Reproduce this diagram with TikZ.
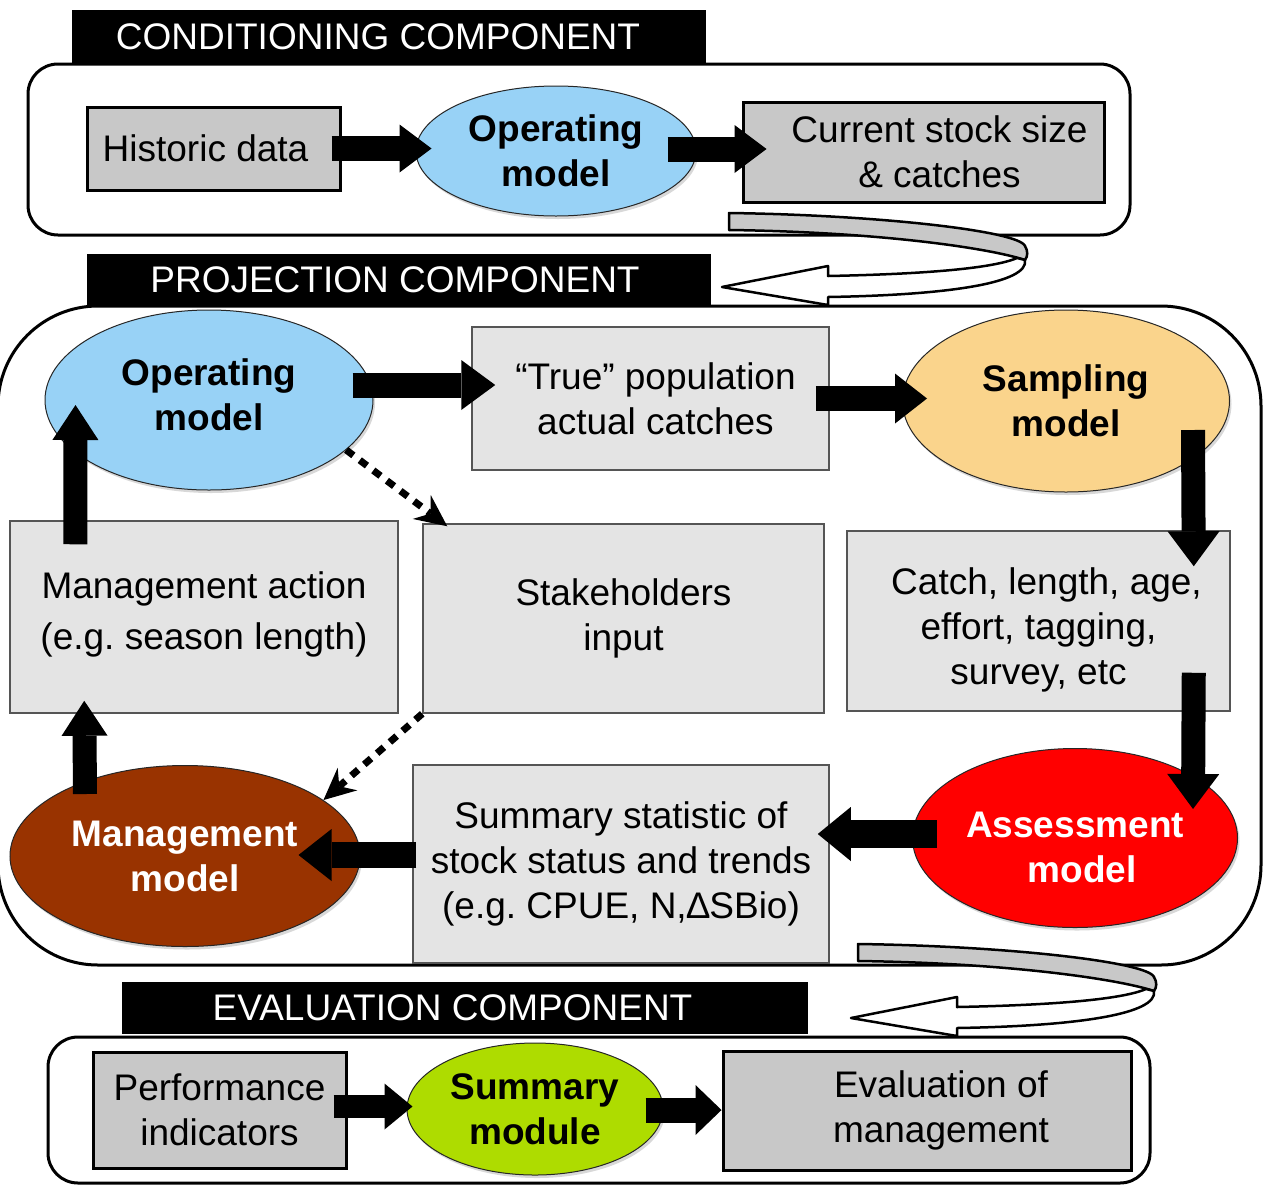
\documentclass[tikz,border=0pt]{standalone}
\usepackage{fontspec}
\setmainfont{Liberation Sans}
\usetikzlibrary{shapes.geometric,arrows.meta,calc,shadows}
\definecolor{opblue}{RGB}{152,210,246}
\definecolor{sampcol}{RGB}{250,212,140}
\definecolor{mgmtcol}{RGB}{153,51,0}
\definecolor{summcol}{RGB}{174,220,0}
\definecolor{darkbox}{RGB}{200,200,200}
\definecolor{lightbox}{RGB}{228,228,228}
\definecolor{lightedge}{RGB}{85,85,85}
\newcommand{\dtxt}{\fontsize{37pt}{45pt}\selectfont\frenchspacing}
\tikzset{
 hdr/.style={fill=black, text=white, font=\dtxt, inner sep=0pt},
 panel/.style={draw=black, line width=3pt, fill=white},
 dbox/.style={draw=black, line width=3pt, fill=darkbox, font=\dtxt, align=center, inner sep=0pt},
 lbox/.style={draw=lightedge, line width=1.5pt, fill=lightbox, font=\dtxt, align=center, inner sep=0pt},
 ell/.style={ellipse, draw=black!85, line width=1pt, font=\dtxt\bfseries, align=center, inner sep=0pt,
   drop shadow={shadow xshift=2pt, shadow yshift=-3pt, opacity=0.3}},
 blockarrow/.style n args={3}{draw=black, line width=#1, -{Triangle[length=#2,width=#3,line width=0pt]}},
 dotarrow/.style={draw=black, line width=7pt, dash pattern=on 9pt off 8pt,
   -{Stealth[length=32pt,width=30pt,inset=11pt,line width=0pt]}},
 uturn/.pic={
   \draw[line width=2.5pt, fill=darkbox, line join=round]
     (0,0) .. controls (150,2) and (290,18) .. (296,33)
     .. controls (299,38) and (299,43) .. (296,47)
     .. controls (260,35) and (150,19) .. (0,17) -- cycle;
   \draw[line width=2.5pt, fill=white, line join=round]
     (296,47) .. controls (300,70) and (220,82) .. (99,84) -- (99,92) -- (-7,74) -- (99,53) -- (99,63)
     .. controls (200,61) and (265,55) .. (288,45) -- cycle;
 }
}
\begin{document}
\begin{tikzpicture}[x=1pt,y=-1pt]
\useasboundingbox (0,0) rectangle (1268,1189);

% ---------- panels ----------
\draw[panel, rounded corners=30pt] (28,64) rectangle (1130,235);
\draw[panel, rounded corners=100pt] (-2,306) rectangle (1261,965);
\draw[panel, rounded corners=30pt] (48,1037) rectangle (1150,1183);

% ---------- headers ----------
\node[hdr, minimum width=634pt, minimum height=53pt] (h1) at (389,36.5) {CONDITIONING COMPONENT\hspace*{22pt}};
\node[hdr, minimum width=624pt, minimum height=52pt] (h2) at (399,280) {PROJECTION COMPONENT\hspace*{8pt}};
\node[hdr, minimum width=686pt, minimum height=52pt] (h3) at (465,1008) {EVALUATION COMPONENT\hspace*{25pt}};

% ---------- conditioning ----------
\node[dbox, minimum width=253pt, minimum height=83pt] (hist) at (213.5,148.5) {Historic data\hspace*{16pt}};
\node[ell, fill=opblue, minimum width=280pt, minimum height=130pt] (op1) at (556,151) {Operating\\model};
\node[dbox, minimum width=361pt, minimum height=100pt] (cur) at (923.5,152) {\hspace*{32pt}Current stock size\\\hspace*{32pt}\& catches};

% ---------- projection ----------
\node[ell, fill=opblue, minimum width=328pt, minimum height=180pt] (op2) at (209,400) {Operating\\model\rule[-10pt]{0pt}{0pt}};
\node[lbox, minimum width=357pt, minimum height=143pt] (true) at (650.5,398.5) {\hspace*{10pt}“True” population\\\hspace*{10pt}actual catches};
\node[ell, fill=sampcol, minimum width=327pt, minimum height=182pt] (samp) at (1066,401) {Sampling\\model};
\node[lbox, minimum width=388pt, minimum height=192pt, font=\fontsize{37pt}{51pt}\selectfont\frenchspacing] (mact) at (204,617) {Management action\\(e.g. season length)\rule[-12pt]{0pt}{0pt}};
\node[lbox, minimum width=401pt, minimum height=189pt] (stake) at (623.5,618.5) {Stakeholders\\input};
\node[lbox, minimum width=383pt, minimum height=180pt] (catch) at (1038.5,621) {\hspace*{16pt}Catch, length, age,\rule{0pt}{44pt}\\effort, tagging,\\survey, etc};
\node[ell, fill=mgmtcol, text=white, minimum width=350pt, minimum height=181pt] (mgmt) at (185,856) {Management\\model};
\node[lbox, minimum width=416pt, minimum height=198pt] (summ) at (621,864) {Summary statistic of\\stock status and trends\\(e.g. CPUE, N,∆SBio)\rule[-8pt]{0pt}{0pt}};
\node[ell, fill=red, text=white, minimum width=325pt, minimum height=179pt] (assess) at (1075,838) {Assessment\rule{0pt}{44pt}\\\hspace*{14pt}model};

% ---------- evaluation ----------
\node[dbox, minimum width=253pt, minimum height=116pt] (perf) at (219.5,1110) {Performance\\indicators};
\node[ell, fill=summcol, minimum width=256pt, minimum height=132pt] (summod) at (535,1109) {Summary\\module};
\node[dbox, minimum width=408pt, minimum height=119pt] (evalm) at (927,1110.5) {\hspace*{28pt}Evaluation of\\\hspace*{28pt}management};

% ---------- block arrows ----------
\draw[blockarrow={25pt}{32pt}{48pt}] ($(hist.east)+(-10,0)$) -- ($(hist.east -| op1.west)+(16,0)$);
\draw[blockarrow={25pt}{32pt}{48pt}] ($(op1.east)+(-29,-2)$) -- ($(op1.east -| cur.west)+(25,-2)$);

\draw[blockarrow={25pt}{34pt}{50pt}] ($(op2.east)+(-21,-15)$) -- ($(op2.east -| true.west)+(24,-15)$);
\draw[blockarrow={25pt}{32pt}{50pt}] ($(true.east)+(-14,0)$) -- ($(true.east -| samp.west)+(25,0)$);
\draw[blockarrow={24pt}{35pt}{52pt}] ($(samp.center)+(127,29)$) -- ($(catch.north east)+(-37,36)$);
\draw[blockarrow={24pt}{35pt}{52pt}] ($(catch.south east)+(-37,-39)$) -- ($(assess.center)+(118,-29)$);
\draw[blockarrow={28pt}{33pt}{54pt}] ($(assess.west)+(25,-4)$) -- ($(assess.west -| summ.east)+(-12,-4)$);
\draw[blockarrow={26pt}{33pt}{52pt}] ($(summ.west)+(4,-9)$) -- ($(summ.west -| mgmt.east)+(-62,-9)$);
\draw[blockarrow={24pt}{35pt}{46pt}] ($(mgmt.north)+(-100,29)$) -- ($(mact.south west)+(75,-13)$);
\draw[blockarrow={24pt}{35pt}{46pt}] ($(mact.north west)+(66,24)$) -- ($(op2.west)+(31,5)$);

\draw[blockarrow={23pt}{28pt}{46pt}] ($(perf.east)+(-14,-3.5)$) -- ($(perf.east -| summod.west)+(6,-3.5)$);
\draw[blockarrow={25pt}{26pt}{50pt}] ($(summod.east)+(-18,1)$) -- ($(summod.east -| evalm.west)+(0,1)$);

% ---------- dotted arrows ----------
\draw[dotarrow] (op2.-20) -- ([xshift=25pt,yshift=-3pt]stake.north west);
\draw[dotarrow] (stake.south west) -- (mgmt.22);

% ---------- U-turn arrows ----------
\pic at (729,213) {uturn};
\pic at (858,944) {uturn};
\end{tikzpicture}
\end{document}
